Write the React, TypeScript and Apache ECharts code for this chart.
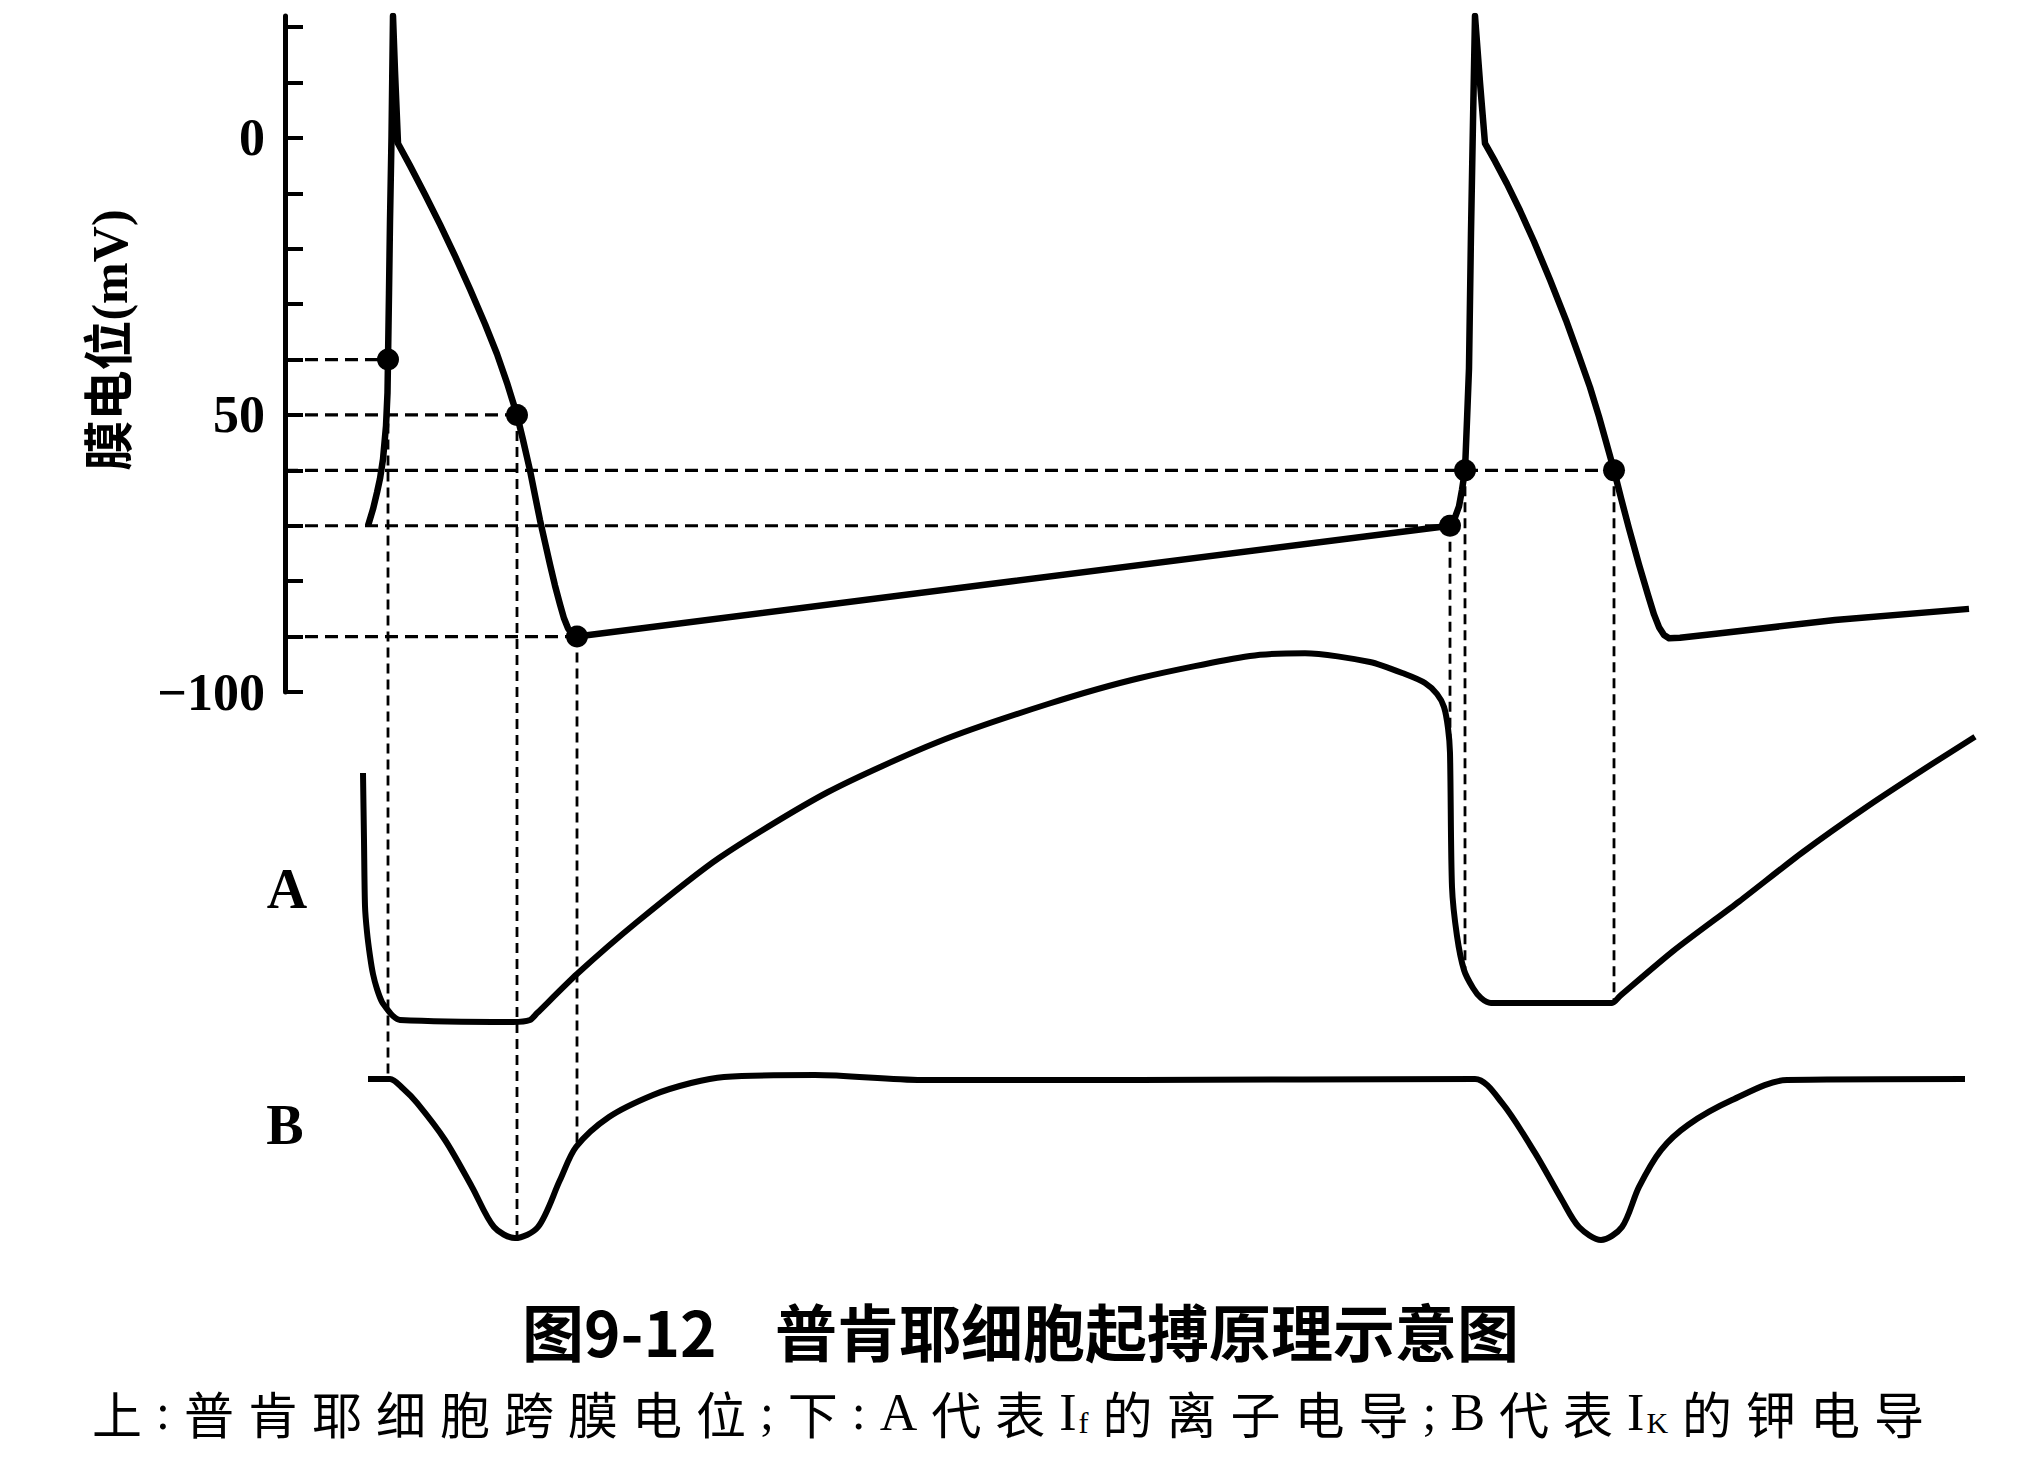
import React, { useEffect, useRef } from "react";
import * as echarts from "echarts";

// ---- data (time in arbitrary units) ----
// membrane potential (mV)
const vTime = [
  83, 88, 92, 95, 98, 101, 102.5, 103, 104, 105, 106.5, 108, 110, 113, 125, 140, 155, 170, 185, 200, 212, 222, 232,
  238, 245, 250, 255, 260, 265, 270, 275, 279, 283, 287, 292, 727, 1165, 1170, 1174, 1177, 1180, 1182, 1184, 1186, 1188,
  1190, 1195, 1200, 1210, 1222, 1235, 1249, 1265, 1281, 1294, 1305, 1314, 1321, 1329, 1336, 1344, 1354, 1363, 1369, 1374,
  1379, 1384, 1395, 1431, 1550, 1684,
];
const vMembrane = [
  -70, -67, -64, -61.5, -58, -52, -46, -40, -28, -15, 0, 22, 12, -1, -5, -10.2, -15.6, -21.3, -27.3, -33.6, -39, -44.2, -50,
  -54.5, -60, -64.5, -69, -73, -77, -80.8, -84.2, -86.7, -88.5, -89.5, -90, -80, -70, -68.5, -66.5, -63.5, -60, -51, -41.6, -17, 3,
  22, 10, -1, -4.2, -8.3, -13.1, -18.7, -25.6, -32.9, -39.4, -45, -50.3, -54.8, -60, -65, -70.5, -77, -82.5, -86, -88.3,
  -89.7, -90.3, -90.2, -89.5, -87, -85,
];
// A: I_f conductance (relative)
const aTime = [
  78, 79, 80, 82, 85, 88, 92, 97, 102, 108, 115, 228, 245, 252, 292, 352, 434, 543, 653, 763, 855, 965, 1020, 1085, 1120,
  1140, 1152, 1159, 1163, 1165, 1167, 1172, 1179, 1188, 1196, 1206, 1327, 1335, 1389, 1454, 1518, 1583, 1647, 1690,
];
const aCond = [
  0.6675, 0.5, 0.335, 0.27, 0.21, 0.165, 0.1275, 0.095, 0.0775, 0.06, 0.05, 0.045, 0.05, 0.067, 0.165, 0.295, 0.455, 0.62,
  0.745, 0.84, 0.905, 0.96, 0.967, 0.945, 0.915, 0.8925, 0.865, 0.8325, 0.78, 0.7175, 0.3825, 0.26, 0.175, 0.13, 0.105,
  0.0925, 0.0925, 0.11, 0.224, 0.346, 0.47, 0.585, 0.69, 0.758,
];
// B: I_K conductance (relative)
const bTime = [
  83, 105, 118, 132, 160, 187, 209, 230, 253, 275, 291, 324, 368, 406, 439, 530, 637, 855, 1190, 1217, 1250, 1277, 1294, 1316,
  1337, 1354, 1376, 1403, 1447, 1502, 1680,
];
const bCond = [
  0.9, 0.9, 0.85, 0.774, 0.579, 0.332, 0.121, 0.063, 0.121, 0.368, 0.542, 0.7, 0.816, 0.879, 0.911, 0.921, 0.895, 0.895, 0.9,
  0.774, 0.511, 0.263, 0.121, 0.053, 0.121, 0.332, 0.526, 0.658, 0.789, 0.895, 0.9,
];
// marked points on the membrane potential, and which lower trace their guide drops to
const markTime = [103, 232, 292, 1165, 1180, 1329];
const markVolt = [-40, -50, -90, -70, -60, -60];
const markTarget = ["B", "B", "B", "A", "A", "A"];
// horizontal guides: level and where they end
const hGuideVolt = [-40, -50, -60, -70, -90];
const hGuideEnd = [103, 232, 1329, 1165, 292];
// y axis
const yTicks = [-100, -90, -80, -70, -60, -50, -40, -30, -20, -10, 0, 10, 20];
const yLabelValues = [0, -50, -100];
const yLabelTexts = ["0", "50", "\u2212100"];
const yName = "膜电位(mV)";
const title = ["图9-12", "普肯耶细胞起搏原理示意图"];
// caption: [style, text]
const caption: [string, string][] = [
  ["c", "上"], ["p", ":"], ["c", "普"], ["c", "肯"], ["c", "耶"], ["c", "细"], ["c", "胞"], ["c", "跨"], ["c", "膜"], ["c", "电"],
  ["c", "位"], ["p", ";"], ["c", "下"], ["p", ":"], ["l", "A"], ["c", "代"], ["c", "表"], ["i", "I"], ["s", "f"], ["c", "的"],
  ["c", "离"], ["c", "子"], ["c", "电"], ["c", "导"], ["p", ";"], ["l", "B"], ["c", "代"], ["c", "表"], ["i", "I"], ["s", "K"],
  ["c", "的"], ["c", "钾"], ["c", "电"], ["c", "导"],
];

function interp(ts: number[], vs: number[], t: number): number {
  if (t <= ts[0]) return vs[0];
  for (let i = 1; i < ts.length; i++) {
    if (t <= ts[i]) {
      const f = (t - ts[i - 1]) / (ts[i] - ts[i - 1]);
      return vs[i - 1] + f * (vs[i] - vs[i - 1]);
    }
  }
  return vs[vs.length - 1];
}

const BLACK = "#000";
const SERIF = "'Liberation Serif', 'Noto Sans CJK SC', serif";
const CJK = "'Noto Sans CJK SC', sans-serif";

export default function App() {
  const ref = useRef<HTMLDivElement>(null);
  useEffect(() => {
    if (!ref.current) return;
    const chart = echarts.init(ref.current, null, { renderer: "svg" });
    const left = 285;
    const width = 1700;
    const option: any = {
      animation: false,
      backgroundColor: "#fff",
      grid: [
        { left, width, top: 16, height: 676 },
        { left, width, top: 640, height: 400 },
        { left, width, top: 1060, height: 190 },
      ],
      xAxis: [0, 1, 2].map((i) => ({ gridIndex: i, type: "value", min: 0, max: 1700, show: false })),
      yAxis: [
        {
          gridIndex: 0,
          type: "value",
          min: -100,
          max: 22,
          interval: 10,
          axisLine: { show: true, onZero: false, lineStyle: { color: BLACK, width: 5 } },
          axisTick: { show: true, inside: true, length: 18, customValues: yTicks, lineStyle: { color: BLACK, width: 4 } },
          axisLabel: {
            show: true,
            customValues: yLabelValues,
            formatter: (v: number) => {
              const k = yLabelValues.indexOf(v);
              return k >= 0 ? yLabelTexts[k] : "";
            },
            color: BLACK,
            fontSize: 52,
            fontWeight: "bold",
            fontFamily: SERIF,
            margin: 20,
          },
          splitLine: { show: false },
        },
        { gridIndex: 1, type: "value", min: 0, max: 1, show: false },
        { gridIndex: 2, type: "value", min: 0, max: 1, show: false },
      ],
      series: [
        ...hGuideVolt.map((v, i) => ({
          type: "line",
          xAxisIndex: 0,
          yAxisIndex: 0,
          data: [
            [0, v],
            [hGuideEnd[i], v],
          ],
          symbol: "none",
          silent: true,
          z: 1,
          lineStyle: { color: BLACK, width: 3.2, type: [13, 7] },
        })),
        {
          type: "line",
          xAxisIndex: 0,
          yAxisIndex: 0,
          data: vTime.map((t, i) => [t, vMembrane[i]]),
          symbol: "none",
          z: 3,
          lineStyle: { color: BLACK, width: 6.5, join: "round" },
        },
        {
          type: "line",
          xAxisIndex: 1,
          yAxisIndex: 1,
          data: aTime.map((t, i) => [t, aCond[i]]),
          symbol: "none",
          smooth: 0.25,
          z: 3,
          lineStyle: { color: BLACK, width: 6, join: "round" },
        },
        {
          type: "line",
          xAxisIndex: 2,
          yAxisIndex: 2,
          data: bTime.map((t, i) => [t, bCond[i]]),
          symbol: "none",
          smooth: 0.3,
          z: 3,
          lineStyle: { color: BLACK, width: 6, join: "round" },
        },
        {
          type: "scatter",
          xAxisIndex: 0,
          yAxisIndex: 0,
          data: markTime.map((t, i) => [t, markVolt[i]]),
          symbolSize: 22,
          z: 4,
          itemStyle: { color: BLACK, opacity: 1 },
        },
      ],
    };
    chart.setOption(option);

    const guides = markTime.map((t, i) => {
      const top = chart.convertToPixel({ gridIndex: 0 } as any, [t, markVolt[i]]) as number[];
      const isA = markTarget[i] === "A";
      const val = isA ? interp(aTime, aCond, t) : interp(bTime, bCond, t);
      const bot = chart.convertToPixel({ gridIndex: isA ? 1 : 2 } as any, [t, val]) as number[];
      return {
        type: "line",
        silent: true,
        z: 1,
        shape: { x1: top[0], y1: top[1], x2: bot[0], y2: bot[1] },
        style: { stroke: BLACK, lineWidth: 2.8, lineDash: [10, 6] },
      };
    });

    const capText = caption.map(([s, t]) => `{${s}|${t}}`).join("");
    const texts = [
      {
        type: "text",
        x: 110,
        y: 340,
        rotation: Math.PI / 2,
        style: { text: yName, fontSize: 50, fontWeight: "bold", fontFamily: SERIF, fill: BLACK, align: "center", verticalAlign: "middle" },
      },
      {
        type: "text",
        x: 287,
        y: 889,
        style: { text: "A", fontSize: 56, fontWeight: "bold", fontFamily: SERIF, fill: BLACK, align: "center", verticalAlign: "middle" },
      },
      {
        type: "text",
        x: 285,
        y: 1125,
        style: { text: "B", fontSize: 56, fontWeight: "bold", fontFamily: SERIF, fill: BLACK, align: "center", verticalAlign: "middle" },
      },
      {
        type: "text",
        x: 522,
        y: 1330,
        style: {
          text: title[0], fontSize: 62, lineHeight: 62, fontWeight: "bold", fontFamily: CJK, fill: BLACK,
          align: "left", verticalAlign: "middle",
        },
      },
      {
        type: "text",
        x: 1519,
        y: 1330,
        style: {
          text: title[1], fontSize: 62, lineHeight: 62, fontWeight: "bold", fontFamily: CJK, fill: BLACK,
          align: "right", verticalAlign: "middle",
        },
      },
      {
        type: "text",
        x: 92,
        y: 1412,
        style: {
          text: capText,
          align: "left",
          verticalAlign: "middle",
          fill: BLACK,
          lineHeight: 50,
          rich: {
            c: { fontSize: 50, lineHeight: 50, fontFamily: CJK, fill: BLACK, padding: [0, 14, 0, 0] },
            p: { fontSize: 50, lineHeight: 50, fontFamily: SERIF, fill: BLACK, padding: [0, 14, 0, 0] },
            l: { fontSize: 52, lineHeight: 50, fontFamily: SERIF, fill: BLACK, padding: [0, 14, 0, 0] },
            i: { fontSize: 52, lineHeight: 50, fontFamily: SERIF, fill: BLACK, padding: [0, 2, 0, 0] },
            s: { fontSize: 30, lineHeight: 30, fontFamily: SERIF, fill: BLACK, verticalAlign: "bottom", padding: [0, 14, 0, 0] },
          },
        },
      },
    ];
    chart.setOption({ graphic: { elements: [...guides, ...texts] } });
    return () => chart.dispose();
  }, []);
  return <div ref={ref} style={{ position: "fixed", left: 0, top: 0, width: 2020, height: 1476, background: "#fff" }} />;
}
